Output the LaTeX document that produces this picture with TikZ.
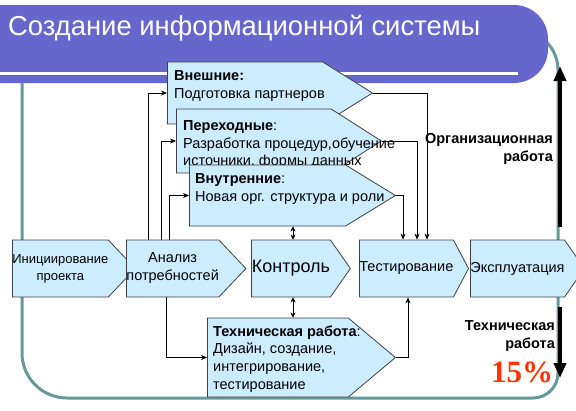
\documentclass[tikz,border=0pt]{standalone}
\usepackage{fontspec}
\setmainfont{Liberation Sans}
\newfontfamily\pctfont{Liberation Serif}
\usetikzlibrary{shapes.symbols,arrows.meta}
\definecolor{bandpurple}{RGB}{102,102,204}
\definecolor{boxblue}{RGB}{204,236,255}
\definecolor{frameteal}{RGB}{102,153,153}
\definecolor{pctred}{RGB}{255,51,0}
\tikzset{
  stage/.style={signal,signal to=east,signal from=nowhere,fill=boxblue,draw=black!75,line width=.8pt,inner sep=0pt,align=center,font=\fontsize{14.5}{18}\selectfont},
  boxtext/.style={anchor=north west,align=left,inner sep=0pt,font=\fontsize{14.5}{17.6}\selectfont},
  flow/.style={-{Stealth[length=6pt,width=5pt]},line width=.7pt},
  both/.style={{Stealth[length=5pt,width=5pt]}-{Stealth[length=5pt,width=5pt]},line width=.7pt},
  frame/.style={draw=frameteal,line width=3pt},
  bigarrow/.style={-{Triangle[length=15pt,width=12pt]},line width=4pt},
  sidelabel/.style={anchor=east,align=right,inner sep=0pt,font=\bfseries\fontsize{14.5}{18}\selectfont}
}
\begin{document}
\begin{tikzpicture}[x=1pt,y=-1pt]
\useasboundingbox (0,0) rectangle (576,410);
\draw[frame,rounded corners=45] (22,30) -- (22,398) -- (290,398);
\draw[frame,rounded corners=25] (290,398) -- (558,398) -- (558,200);
\draw[frame,rounded corners=40] (558,200) -- (558,30) -- (500,30);
\fill[bandpurple,rounded corners=34] (-40,5) -- (548,5) -- (548,83) -- (-40,83) -- cycle;
\draw[white,line width=2.5pt] (0,73.5) -- (518,73.5);
\node[anchor=base west,inner sep=0pt,text=white,font=\fontsize{27.4}{30}\selectfont] (title) at (8,35) {Создание информационной системы};

\node[stage,minimum width=110,minimum height=57,signal pointer angle=93,anchor=west,font=\fontsize{13}{17}\selectfont] (init) at (12,268.5) {Инициирование\\проекта};
\node[stage,minimum width=112,minimum height=57,signal pointer angle=93,anchor=west] (analiz) at (126,268.5) {Анализ\\потребностей};
\node[stage,minimum width=99,minimum height=57,signal pointer angle=110,anchor=west,font=\fontsize{18}{20}\selectfont] (kontrol) at (251,268.5) {Контроль};
\node[stage,minimum width=107,minimum height=57,signal pointer angle=124,anchor=west] (test) at (359,268.5) {Тестирование};
\node[stage,minimum width=107,minimum height=57,signal pointer angle=110,anchor=west] (ekspl) at (470,268.5) {Эксплуатация};

\node[stage,minimum width=205,minimum height=62,signal pointer angle=64,anchor=west] (vnesh) at (167,93) {};
\node[boxtext] (vneshtext) at (174,70.5) {\textbf{Внешние:}\\Подготовка партнеров};
\node[stage,minimum width=205,minimum height=64,signal pointer angle=65,anchor=west] (perehod) at (176,141) {};
\node[boxtext] (perehodtext) at (183,120.5) {\textbf{Переходные}:\\Разработка процедур,обучение\\источники, формы данных};
\node[stage,minimum width=206,minimum height=61,signal pointer angle=63,anchor=west] (vnutr) at (189,195.5) {};
\node[boxtext] (vnutrtext) at (195,173.5) {\textbf{Внутренние}:\\Новая орг. структура и роли};
\node[stage,minimum width=188,minimum height=79,signal pointer angle=80,anchor=west] (tech) at (207,357.5) {};
\node[boxtext] (techtext) at (213,325.5) {\textbf{Техническая работа}:\\Дизайн, создание,\\интегрирование,\\тестирование};

\draw[flow] (148,0 |- analiz.north) |- (vnesh.west);
\draw[flow] (161,0 |- analiz.north) |- (perehod.west);
\draw[flow] (169,0 |- analiz.north) |- (vnutr.west);
\draw[flow] (166,0 |- analiz.south) |- (tech.west);
\draw[flow] (vnesh.east) -| (427,0 |- test.north);
\draw[flow] (perehod.east) -| (417,0 |- test.north);
\draw[flow] (vnutr.east) -| (403,0 |- test.north);
\draw[flow] (tech.east) -| (408,0 |- test.south);
\draw[both] (293,0 |- vnutr.south) -- (293,0 |- kontrol.north);
\draw[both] (293,0 |- kontrol.south) -- (293,0 |- tech.north);

\node[sidelabel] (orglabel) at (553,149) {Организационная\\работа};
\node[sidelabel] (techlabel) at (555,336) {Техническая\\работа};
\coordinate (orgbot) at (560,227);
\coordinate (orgtop) at (560,66);
\coordinate (techtop) at (560,307);
\coordinate (techbot) at (560,378);
\draw[bigarrow] (orgbot) -- (orgtop);
\draw[bigarrow] (techtop) -- (techbot);
\node[text=pctred,inner sep=0pt,font=\pctfont\bfseries\fontsize{31}{31}\selectfont] (pct) at (522,372) {15\%};
\end{tikzpicture}
\end{document}
